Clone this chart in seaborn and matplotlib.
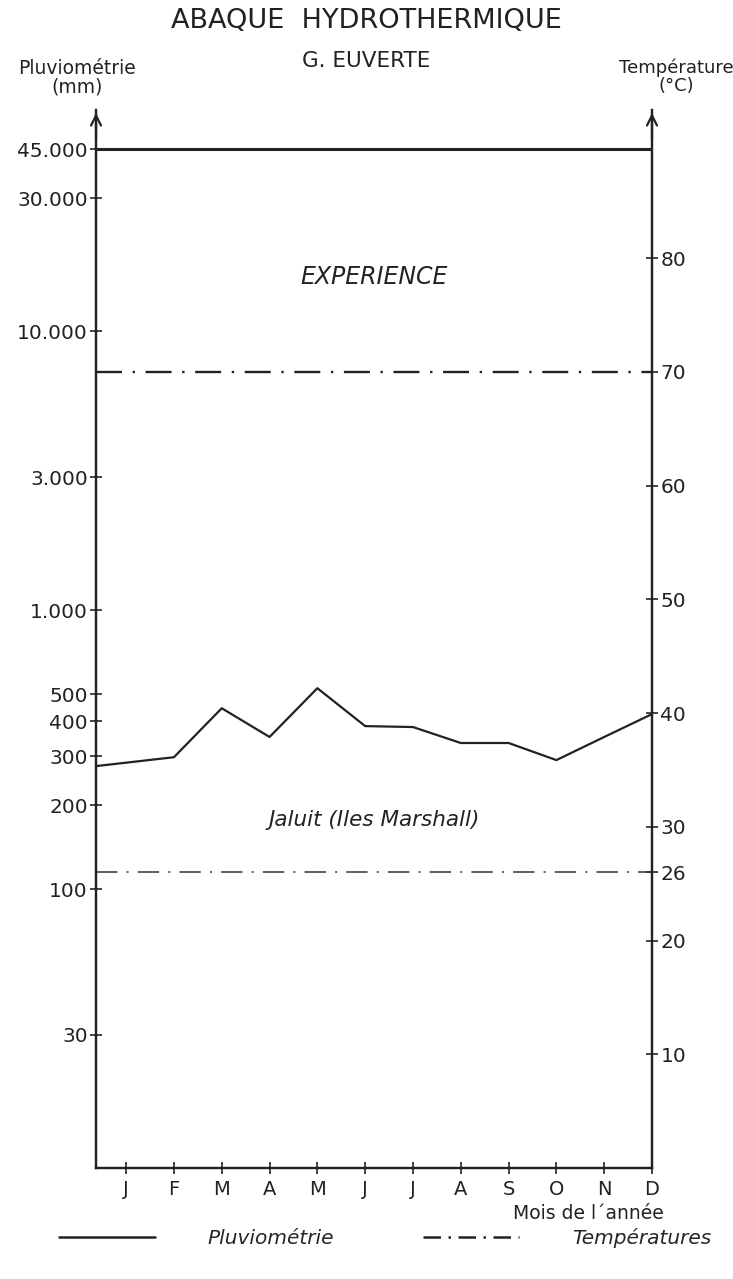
import numpy as np
import pandas as pd
import matplotlib
matplotlib.use('Agg')
import matplotlib.pyplot as plt
import seaborn as sns
from matplotlib.lines import Line2D

sns.set_style('ticks')
plt.rcParams['font.family'] = ['DejaVu Sans']

mois = ['J', 'F', 'M', 'A', 'M', 'J', 'J', 'A', 'S', 'O', 'N', 'D']
mois_num = list(range(1, 13))
pluie_mm = [276, 297, 445, 351, 525, 384, 381, 334, 334, 290, 351, 424]
pluie_ticks = [30, 100, 200, 300, 400, 500, 1000, 3000, 10000, 30000, 45000]
pluie_labels = ['30', '100', '200', '300', '400', '500', '1.000', '3.000',
                '10.000', '30.000', '45.000']
temp_ticks = [10, 20, 26, 30, 40, 50, 60, 70, 80]
experience_mm = 45000
experience_temp = 70
station_temp = 26

X_MIN = 0.37
ENCRE = '#222222'

fig = plt.figure(figsize=(7.33, 12.79), dpi=100)
ax = fig.add_axes([0.131, 0.0868, 0.7585, 0.827])
ax2 = ax.twinx()

# pluviométrie : le premier point est posé sur l'axe gauche
x_pluie = [X_MIN] + mois_num[1:]
df = pd.DataFrame({'mois': x_pluie, 'pluie': pluie_mm})
sns.lineplot(data=df, x='mois', y='pluie', ax=ax, color=ENCRE, lw=1.6)
ax.axhline(experience_mm, color=ENCRE, lw=2.2)

ax.set_yscale('log')
ax.set_ylim(10, 62000)
ax.set_xlim(X_MIN, 12)
ax2.set_ylim(0, 93)

ax2.axhline(experience_temp, color=ENCRE, lw=1.7, ls=(0, (11, 4.5, 1, 4.5)))
ax2.axhline(station_temp, color='#333333', lw=1.1, ls=(0, (14, 6, 1.3, 6)))

ax.set_yticks(pluie_ticks)
ax.set_yticklabels(pluie_labels)
ax.yaxis.set_minor_locator(matplotlib.ticker.NullLocator())
ax.set_xticks(mois_num)
ax.set_xticklabels(mois)
ax2.set_yticks(temp_ticks)
ax2.set_yticklabels([str(t) for t in temp_ticks])
ax.set_xlabel('')
ax.set_ylabel('')

for a in (ax, ax2):
    for s in a.spines.values():
        s.set_color(ENCRE)
        s.set_linewidth(1.6)
    a.spines['top'].set_visible(False)
ax.tick_params(axis='y', direction='inout', length=8, width=1.2,
               labelsize=14.5, pad=2, colors=ENCRE)
ax.tick_params(axis='x', direction='inout', length=8, width=1.2,
               labelsize=14, pad=5, colors=ENCRE)
ax2.tick_params(axis='y', direction='inout', length=8, width=1.2,
                labelsize=14.5, pad=2, colors=ENCRE)

# flèches en haut des axes
for xa in (0, 1):
    ax.annotate('', xy=(xa, 1.0), xytext=(xa, 0.97), xycoords='axes fraction',
                arrowprops=dict(arrowstyle='->', color=ENCRE, lw=1.6,
                                mutation_scale=18))

ax.text(0.5, 0.842, 'EXPERIENCE', transform=ax.transAxes, ha='center',
        va='center', fontsize=17, style='italic', color=ENCRE)
ax.text(0.5, 0.329, 'Jaluit (Iles Marshall)', transform=ax.transAxes,
        ha='center', va='center', fontsize=15.5, style='italic', color=ENCRE)

fig.text(0.5, 0.994, 'ABAQUE  HYDROTHERMIQUE', ha='center', va='top',
         fontsize=19.5, color=ENCRE)
fig.text(0.5, 0.960, 'G. EUVERTE', ha='center', va='top', fontsize=15.5,
         color=ENCRE)
fig.text(0.105, 0.954, 'Pluviométrie\n(mm)', ha='center', va='top',
         fontsize=13.5, color=ENCRE, linespacing=0.95)
fig.text(0.922, 0.954, 'Température\n(°C)', ha='center', va='top',
         fontsize=13, color=ENCRE, linespacing=0.95)
fig.text(0.905, 0.051, "Mois de l´année", ha='right', va='center',
         fontsize=13.5, color=ENCRE)

handles = [Line2D([], [], color=ENCRE, lw=1.8),
           Line2D([], [], color=ENCRE, lw=1.8, ls=(0, (7, 3, 1, 3)))]
fig.legend(handles, ['Pluviométrie', 'Températures'], loc='center',
           bbox_to_anchor=(0.525, 0.032), ncol=2, frameon=False,
           handlelength=4.8, handletextpad=2.6, columnspacing=4.4,
           prop={'size': 14.5, 'style': 'italic'})

fig.savefig('out.png', dpi=100)
